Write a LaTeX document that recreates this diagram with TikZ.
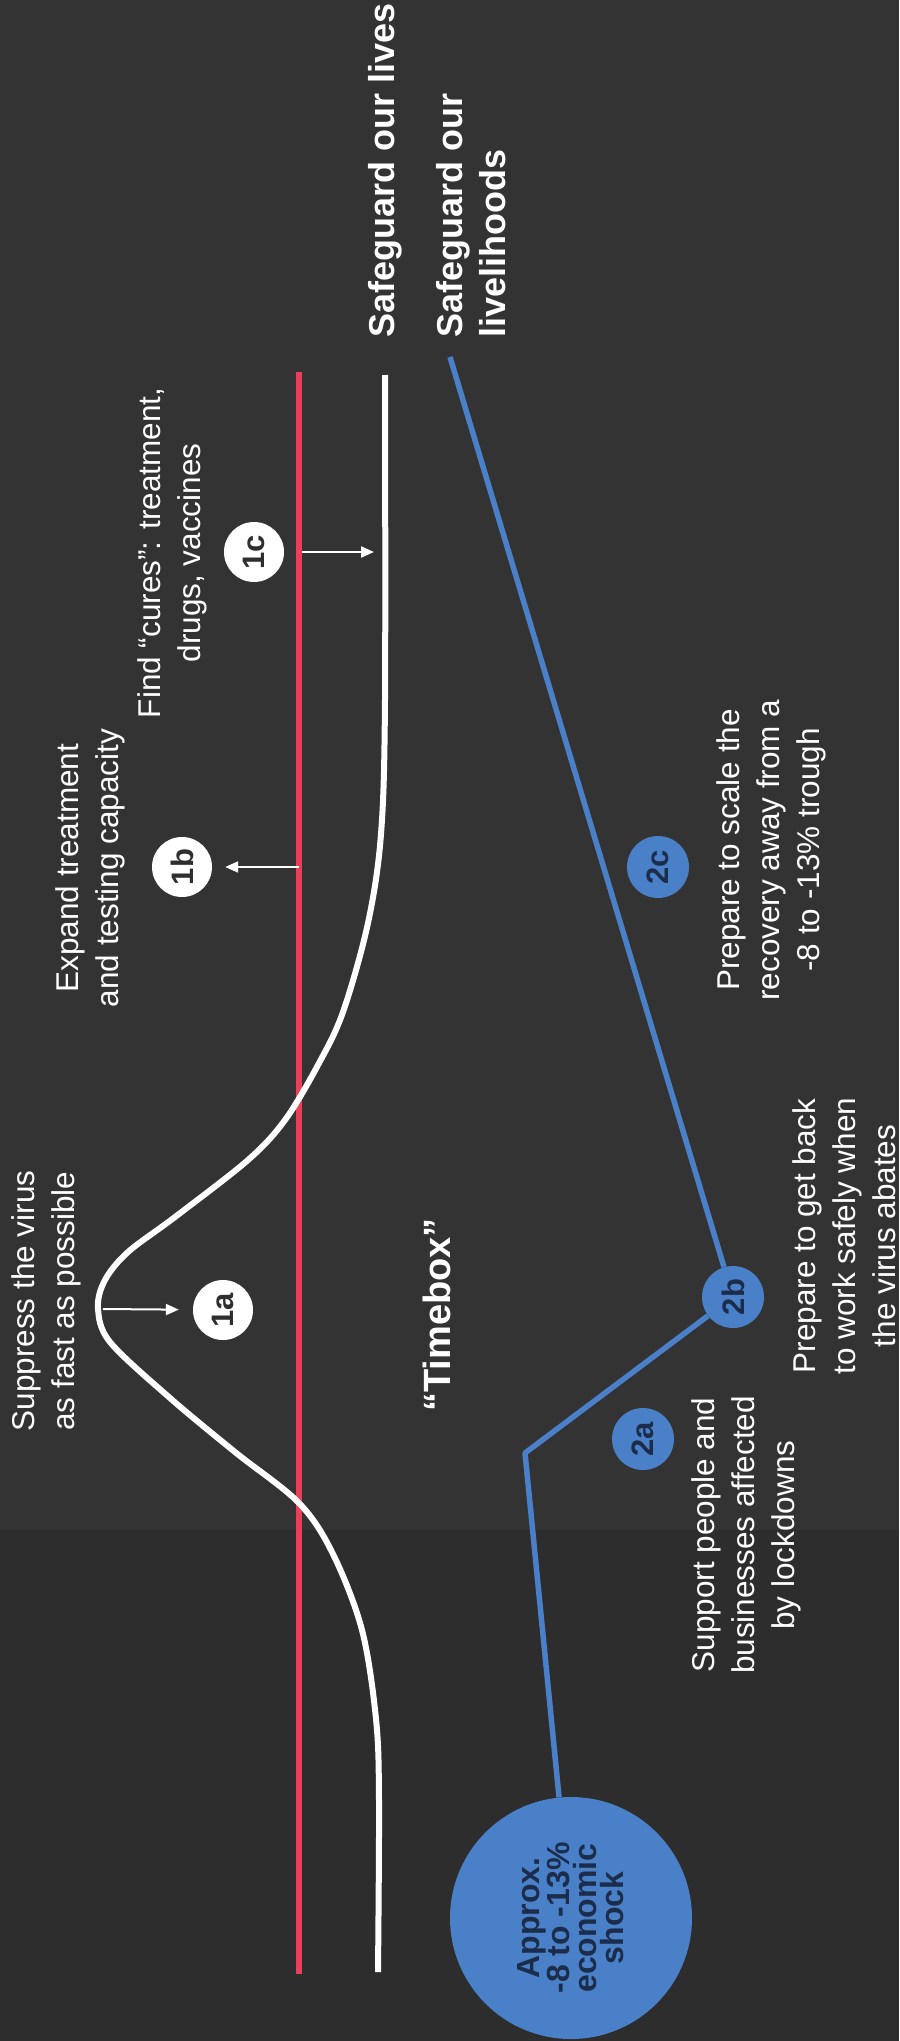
\documentclass[tikz,border=0pt]{standalone}
\usepackage{fontspec}
\setmainfont{Liberation Sans}
\usetikzlibrary{arrows.meta}
\definecolor{bgtop}{HTML}{333333}
\definecolor{bgbot}{HTML}{2D2D2D}
\definecolor{redl}{HTML}{E8405A}
\definecolor{bluel}{HTML}{4A80C8}
\definecolor{navy}{HTML}{1C2D4C}
\definecolor{darktxt}{HTML}{2E2E2E}
\begin{document}
\begin{tikzpicture}[x=1pt,y=-1pt,
  lbl/.style={rotate=90, text=white, align=center, font=\fontsize{31.5}{40}\selectfont, inner sep=0pt},
  title/.style={rotate=90, text=white, align=left, font=\bfseries\fontsize{36}{43}\selectfont, inner sep=0pt, anchor=west},
  wnum/.style={circle, fill=white, text=darktxt, minimum size=60pt, inner sep=0pt, font=\bfseries\fontsize{31}{31}\selectfont, rotate=90},
  bnum/.style={circle, fill=bluel, text=navy, minimum size=62pt, inner sep=0pt, font=\bfseries\fontsize{31}{31}\selectfont, rotate=90},
  arr/.style={draw=white, line width=2pt, -{Triangle[length=13pt,width=11pt]}},
  bline/.style={draw=bluel, line width=5.5pt, line join=round},
]
\useasboundingbox (0,0) rectangle (899,2041);
\fill[bgtop] (0,0) rectangle (899,1530);
\fill[bgbot] (0,1530) rectangle (899,2041);

% red capacity line
\draw[redl, line width=6pt] (299,372) -- (299,1974);

% white epidemic curve
\draw[white, line width=6pt] plot[smooth, tension=0.55] coordinates {
 (385,375) (385,700) (381,834) (368,923) (343,1012) (318,1065) (285,1120)
 (248,1160) (175,1217) (128,1252) (105,1280) (98,1308) (110,1342) (170,1398)
 (235,1452) (299,1503) (333,1554) (362,1630) (376,1719) (379,1800) (378,1972)};

% coordinates
\coordinate (peak) at (103,1309);
\coordinate (r1b) at (299,867);
\coordinate (r1c) at (302,552);
\coordinate (w1c) at (374,552);
\coordinate (btop) at (450,357);
\coordinate (bcorner) at (525,1453);

% number circles
\node[wnum] (n1a) at (223,1310) {1a};
\node[wnum] (n1b) at (182,867) {1b};
\node[wnum] (n1c) at (254,552) {1c};
\node[bnum] (n2a) at (643,1439) {2a};
\node[bnum] (n2b) at (733,1297) {2b};
\node[bnum] (n2c) at (658,867) {2c};

% shock circle
\node[circle, fill=bluel, minimum size=242pt, inner sep=0pt, rotate=90, text=navy,
      align=center, font=\bfseries\fontsize{32}{27}\selectfont] (shock) at (571,1918)
      {Approx.\\-8 to -13\%\\economic\\shock};

% blue economic line
\draw[bline] (btop) -- (n2b) -- (bcorner) -- (shock);

% arrows
\draw[arr, shorten >=14pt] (peak) -- (n1a);
\draw[arr, shorten >=13pt] (r1b) -- (n1b);
\draw[arr] (r1c) -- (w1c);

% labels
\node[title] (lives) at (385,338) {Safeguard our lives};
\node[title] (livelihoods) at (471,338) {Safeguard our\\livelihoods};
\node[lbl] (t1a) at (46,1301) {Suppress the virus\\as fast as possible};
\node[lbl] (t1b) at (90,868) {Expand treatment\\and testing capacity};
\node[lbl] (t1c) at (172,553) {Find “cures”: treatment,\\drugs, vaccines};
\node[lbl, font=\bfseries\fontsize{38}{40}\selectfont] (timebox) at (437,1315) {“Timebox”};
\node[lbl] (t2c) at (771,850) {Prepare to scale the\\recovery away from a\\-8 to -13\% trough};
\node[lbl] (t2b) at (844,1236) {Prepare to get back\\to work safely when\\the virus abates};
\node[lbl] (t2a) at (746,1535) {Support people and\\businesses affected\\by lockdowns};
\end{tikzpicture}
\end{document}
